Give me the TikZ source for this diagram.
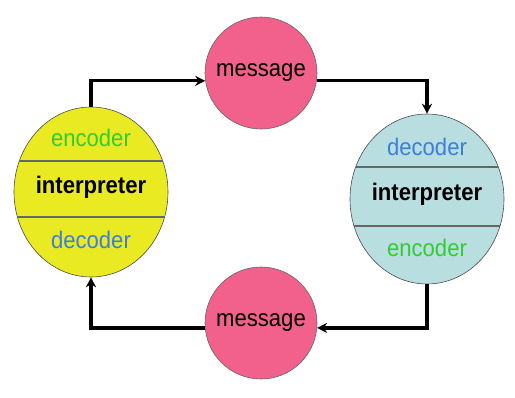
\documentclass[tikz,border=0pt]{standalone}
\usepackage{fontspec}
\setmainfont{Liberation Sans}
\newfontfamily\narrowsans[FakeStretch=0.92]{Liberation Sans}
\usetikzlibrary{shapes.geometric,arrows.meta}

\definecolor{msgpink}{HTML}{F2608C}
\definecolor{leftyellow}{HTML}{EAEA22}
\definecolor{rightcyan}{HTML}{B8DEE0}
\definecolor{encgreen}{HTML}{33CC33}
\definecolor{decblue}{HTML}{3A7FDD}

\tikzset{
    part/.style={draw=black!70, line width=0.6pt, ellipse, inner sep=0pt,
                 minimum width=154pt, minimum height=170pt},
    msg/.style={draw=black!60, line width=0.6pt, circle, fill=msgpink,
                minimum size=112pt, inner sep=0pt, font=\narrowsans\fontsize{24}{26}\selectfont},
    lbl/.style={font=\narrowsans\fontsize{24}{26}\selectfont},
    boldlbl/.style={font=\narrowsans\fontsize{24}{26}\selectfont\bfseries},
    divider/.style={black!60, line width=1.8pt},
    arr/.style={line width=3.2pt, -{Stealth[length=10pt,width=10pt]}},
}

\begin{document}
\begin{tikzpicture}[x=1pt,y=-1pt]
    \useasboundingbox (0,0) rectangle (515,397);
    \def\lx{91}  % centre of the left part
    \def\ly{192}
    \def\rx{427} % centre of the right part
    \def\ry{199}

    % the two parts
    \node [part, fill=leftyellow] (lp) at (\lx,\ly) {};
    \node [part, fill=rightcyan] (rp) at (\rx,\ry) {};

    % divider lines, clipped to each ellipse
    \begin{scope}
        \clip (lp.center) ellipse [x radius=77pt, y radius=85pt];
        \draw [divider] (\lx-80,161) -- (\lx+80,161);
        \draw [divider] (\lx-80,217) -- (\lx+80,217);
    \end{scope}
    \begin{scope}
        \clip (rp.center) ellipse [x radius=77pt, y radius=85pt];
        \draw [divider] (\rx-80,167) -- (\rx+80,167);
        \draw [divider] (\rx-80,226) -- (\rx+80,226);
    \end{scope}

    \node [lbl, text=encgreen] (lenc) at (\lx,138) {encoder};
    \node [boldlbl] (lint) at (\lx,187) {interpreter};
    \node [lbl, text=decblue] (ldec) at (\lx,240) {decoder};

    \node [lbl, text=decblue] (rdec) at (\rx,147) {decoder};
    \node [boldlbl] (rint) at (\rx,194) {interpreter};
    \node [lbl, text=encgreen] (renc) at (\rx,248) {encoder};

    % the two messages
    \node [msg] (mtop) at (261,73) {message};
    \node [msg] (mbot) at (261,323) {message};

    % the loop
    \draw [arr] (lp.north) |- (mtop.188);
    \draw [arr] (mtop.352) -| (rp.north);
    \draw [arr] (rp.south) |- (mbot.355);
    \draw [arr] (mbot.185) -| (lp.south);

\end{tikzpicture}
\end{document}
